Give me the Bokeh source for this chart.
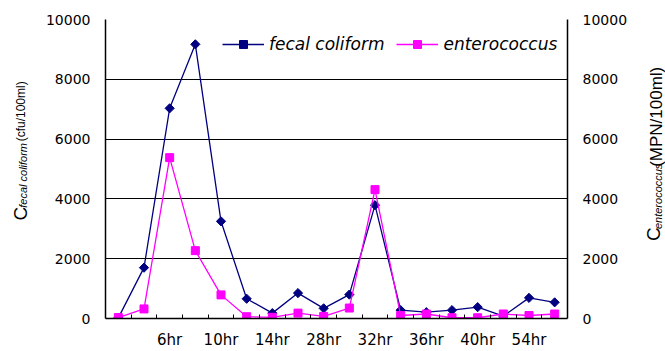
import numpy as np
from bokeh.plotting import figure
from bokeh.layouts import row
from bokeh.models import (Range1d, LinearAxis, FixedTicker, NumeralTickFormatter,
                          Legend, LegendItem)
from bokeh.core.properties import value
from bokeh.embed import file_html
from bokeh.resources import INLINE

# ---- data ----
time_labels = ["", "", "6hr", "", "10hr", "", "14hr", "", "28hr", "",
               "32hr", "", "36hr", "", "40hr", "", "54hr", ""]
fecal_coliform = [20, 1700, 7030, 9170, 3250, 660, 180, 850, 340, 800,
                  3790, 280, 210, 280, 380, 80, 690, 540]
enterococcus = [30, 320, 5380, 2270, 790, 60, 40, 180, 70, 350,
                4310, 100, 150, 25, 25, 150, 100, 150]
y_ticks = [0, 2000, 4000, 6000, 8000, 10000]

n = len(time_labels)
idx = list(range(n))

TICK_FONT = "DejaVu Sans"
LBL_FONT = "Liberation Sans"
H = 351
LEFT_W, RIGHT_W = 33, 27
MAIN_W = 665 - LEFT_W - RIGHT_W

p = figure(width=MAIN_W, height=H, output_backend="svg", toolbar_location=None,
           x_range=Range1d(-0.5, n - 0.5), y_range=Range1d(0, 10000),
           min_border_left=72, min_border_right=71, min_border_top=19,
           min_border_bottom=33)
p.extra_y_ranges = {"right": Range1d(0, 10000)}
p.outline_line_color = None

# lines + markers
l1 = p.line(idx, fecal_coliform, line_color="#000080", line_width=1.3)
m1 = p.scatter(idx, fecal_coliform, marker="square", angle=np.pi / 4, size=6.5,
               fill_color="#000080", line_color="#000080")
l2 = p.line(idx, enterococcus, line_color="#FF00FF", line_width=1.3,
            y_range_name="right")
m2 = p.scatter(idx, enterococcus, marker="square", size=8,
               fill_color="#FF00FF", line_color="#FF00FF", y_range_name="right")

# x axis
xa = p.xaxis[0]
label_pos = [i for i, t in enumerate(time_labels) if t]
xa.ticker = FixedTicker(ticks=label_pos, minor_ticks=[i + 0.5 for i in range(n - 1)])
xa.major_label_overrides = {i: time_labels[i] for i in label_pos}
xa.major_tick_in = 0
xa.major_tick_out = 0
xa.minor_tick_in = 4
xa.minor_tick_out = 0
xa.minor_tick_line_color = "black"
xa.axis_line_color = "black"
xa.axis_line_width = 1.5
xa.major_label_text_font = TICK_FONT
xa.major_label_text_font_size = "15px"
xa.major_label_text_color = "black"
xa.major_label_standoff = 12

# left y axis
ya = p.yaxis[0]
ya.ticker = FixedTicker(ticks=y_ticks)
ya.formatter = NumeralTickFormatter(format="0")
ya.major_tick_in = 0
ya.major_tick_out = 0
ya.minor_tick_line_color = None
ya.axis_line_color = "black"
ya.axis_line_width = 1.5
ya.major_label_text_font = TICK_FONT
ya.major_label_text_font_size = "14px"
ya.major_label_text_color = "black"
ya.major_label_standoff = 15

# right y axis
ra = LinearAxis(y_range_name="right", ticker=FixedTicker(ticks=y_ticks),
                formatter=NumeralTickFormatter(format="0"))
ra.major_tick_in = 0
ra.major_tick_out = 0
ra.minor_tick_line_color = None
ra.axis_line_color = "black"
ra.axis_line_width = 1.5
ra.major_label_text_font = TICK_FONT
ra.major_label_text_font_size = "14px"
ra.major_label_text_color = "black"
ra.major_label_standoff = 15
p.add_layout(ra, "right")

# grid
p.xgrid.visible = False
p.ygrid.ticker = FixedTicker(ticks=y_ticks)
p.ygrid.grid_line_color = "black"
p.ygrid.grid_line_width = 1

# legend
legend = Legend(items=[LegendItem(label="fecal coliform", renderers=[l1, m1]),
                       LegendItem(label="enterococcus", renderers=[l2, m2])],
                orientation="horizontal", location=(117, 264))
legend.padding = 0
legend.margin = 0
legend.spacing = 12
legend.label_standoff = 5
legend.glyph_width = 42
legend.glyph_height = 20
legend.border_line_color = None
legend.background_fill_alpha = 0
legend.label_text_font = TICK_FONT
legend.label_text_font_style = "italic"
legend.label_text_font_size = "17px"
legend.label_text_color = "black"
p.add_layout(legend, "center")


# side figures holding the rotated axis titles (with subscripts)
def side_fig(w):
    f = figure(width=w, height=H, output_backend="svg", toolbar_location=None,
               x_range=Range1d(0, w), y_range=Range1d(0, H), min_border=0)
    f.axis.visible = False
    f.grid.visible = False
    f.outline_line_color = None
    return f


def add_rot(f, text, x, y, size, style="normal"):
    f.text(x=[x], y=[y], text=[text], angle=np.pi / 2, text_align="left",
           text_baseline="alphabetic", text_font=value(LBL_FONT),
           text_font_size=size, text_font_style=style, text_color="black")


left = side_fig(LEFT_W)
add_rot(left, "C", 20, 115, "19px")
add_rot(left, "fecal coliform", 22, 130, "11px", "italic")
add_rot(left, "(cfu/100ml)", 20, 208, "12px")

right = side_fig(RIGHT_W)
add_rot(right, "C", 15, 91, "19px")
add_rot(right, "enterococcus", 19, 105, "11px", "italic")
add_rot(right, "(MPN/100ml)", 18, 178, "17px")

layout = row(left, p, right, spacing=0)
open("out.html", "w").write(file_html(layout, INLINE))
